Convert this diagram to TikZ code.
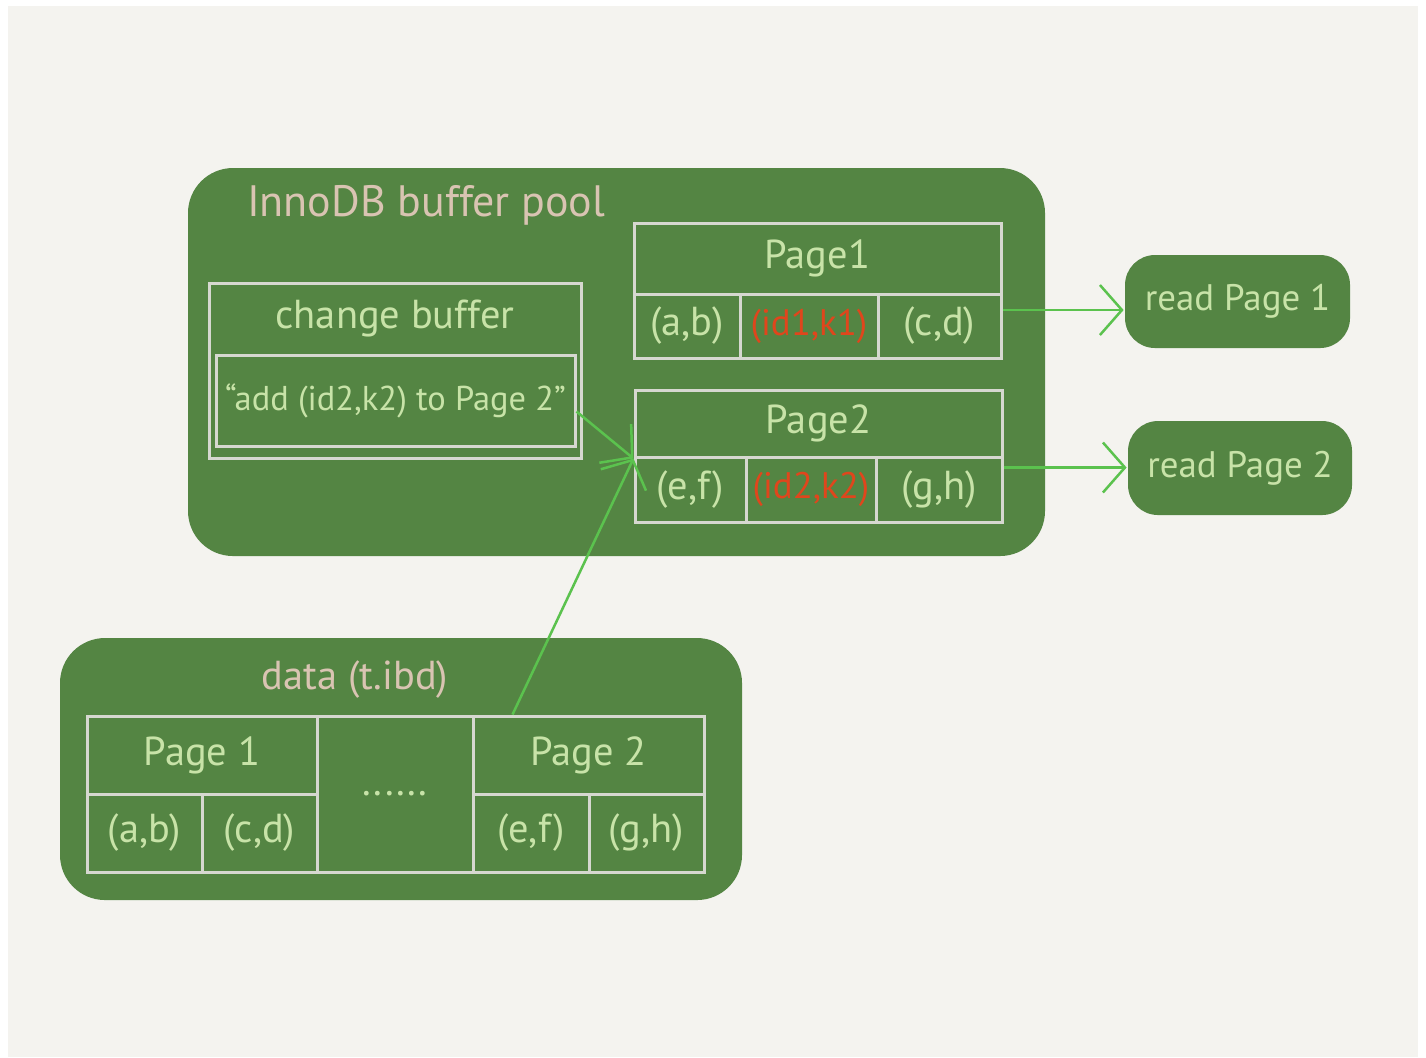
\documentclass[tikz,border=0pt]{standalone}
\usepackage{fontspec}
\setmainfont{PT Sans}
\usetikzlibrary{arrows.meta}
\definecolor{paper}{HTML}{F4F3EF}
\definecolor{boxgreen}{HTML}{548543}
\definecolor{gridgrey}{HTML}{D6D8D0}
\definecolor{leafgreen}{HTML}{C8E3A8}
\definecolor{sand}{HTML}{D9C4B2}
\definecolor{rowred}{HTML}{E0461C}
\definecolor{arrowgreen}{HTML}{5BC24E}
\begin{document}
\begin{tikzpicture}[x=0.1mm, y=-0.1mm, thick,
	pool/.style = {fill=boxgreen, rounded corners=4.5mm, inner sep=0pt},
	cell/.style = {draw=gridgrey, line width=0.3mm, text=leafgreen, inner sep=0pt, font=\fontsize{11.5}{14}\selectfont},
	hot/.style = {cell, text=rowred, font=\fontsize{10.5}{13}\selectfont},
	reader/.style = {pool, rounded corners=3mm, text=leafgreen, font=\fontsize{10.5}{13}\selectfont},
	link/.style = {draw=arrowgreen, line width=0.25mm, -{Straight Barb[length=2.2mm, width=5mm]}}]

		\useasboundingbox (0,0) rectangle (1426,1057);
		\fill[white] (0,0) rectangle (1426,1057);
		\fill[paper] (8,6) rectangle (1418,1057);

		% buffer pool
		\node[pool, minimum width=85.7mm, minimum height=38.8mm] (pool) at (616.5,362) {};
		\node[anchor=west, text=sand, font=\fontsize{12.5}{15}\selectfont] (pooltitle) at (234,205) {InnoDB buffer pool};

		\node[cell, minimum width=37.2mm, minimum height=17.5mm] (cb) at (395,370.5) {};
		\node[text=leafgreen, font=\fontsize{11.5}{14}\selectfont] (cbtitle) at (395,318) {change buffer};
		\node[cell, minimum width=35.9mm, minimum height=9.1mm, font=\fontsize{9.8}{12}\selectfont] (cbin) at (395.5,400.5) {“add (id2,k2) to Page 2”};

		\node[cell, minimum width=36.7mm, minimum height=7.1mm] (p1head) at (817.5,258.5) {Page1};
		\node[cell, minimum width=10.6mm, minimum height=6.4mm] (p1ab) at (687,326) {(a,b)};
		\node[hot, minimum width=13.8mm, minimum height=6.4mm] (p1id) at (809,326) {(id1,k1)};
		\node[cell, minimum width=12.3mm, minimum height=6.4mm] (p1cd) at (939.5,326) {(c,d)};

		\node[cell, minimum width=36.7mm, minimum height=6.7mm] (p2head) at (818.5,423.5) {Page2};
		\node[cell, minimum width=11.1mm, minimum height=6.5mm] (p2ef) at (690.5,489.5) {(e,f)};
		\node[hot, minimum width=13.0mm, minimum height=6.5mm] (p2id) at (811,489.5) {(id2,k2)};
		\node[cell, minimum width=12.6mm, minimum height=6.5mm] (p2gh) at (939,489.5) {(g,h)};

		% reads
		\node[reader, minimum width=22.5mm, minimum height=9.3mm] (rp1) at (1237.5,301.5) {read Page 1};
		\node[reader, minimum width=22.4mm, minimum height=9.4mm] (rp2) at (1240,468) {read Page 2};

		% data file
		\node[pool, minimum width=68.2mm, minimum height=26.2mm] (data) at (401,769) {};
		\node[text=sand, font=\fontsize{11.5}{14}\selectfont] (datatitle) at (355,680) {data (t.ibd)};

		\node[cell, minimum width=23.0mm, minimum height=7.8mm] (dp1head) at (202,755) {Page 1};
		\node[cell, minimum width=11.5mm, minimum height=7.8mm] (dab) at (144.5,833) {(a,b)};
		\node[cell, minimum width=11.5mm, minimum height=7.8mm] (dcd) at (259.5,833) {(c,d)};
		\node[cell, minimum width=15.6mm, minimum height=15.6mm] (ddots) at (395,794) {......};
		\node[cell, minimum width=23.1mm, minimum height=7.8mm] (dp2head) at (588.5,755) {Page 2};
		\node[cell, minimum width=11.6mm, minimum height=7.8mm] (def) at (531,833) {(e,f)};
		\node[cell, minimum width=11.5mm, minimum height=7.8mm] (dgh) at (646.5,833) {(g,h)};

		\draw[link] ([yshift=1.6mm]p1cd.east) -- ([yshift=1.6mm]p1cd.east -| rp1.west);
		\draw[link] ([yshift=2.2mm]p2gh.east) -- ([yshift=2.2mm]p2gh.east -| rp2.west);
		\draw[link] ([yshift=-1.1mm]cbin.east) -- (p2head.south west);
		\draw[link] ([xshift=-7.6mm]dp2head.north) -- (p2head.south west);
	\end{tikzpicture}
\end{document}
